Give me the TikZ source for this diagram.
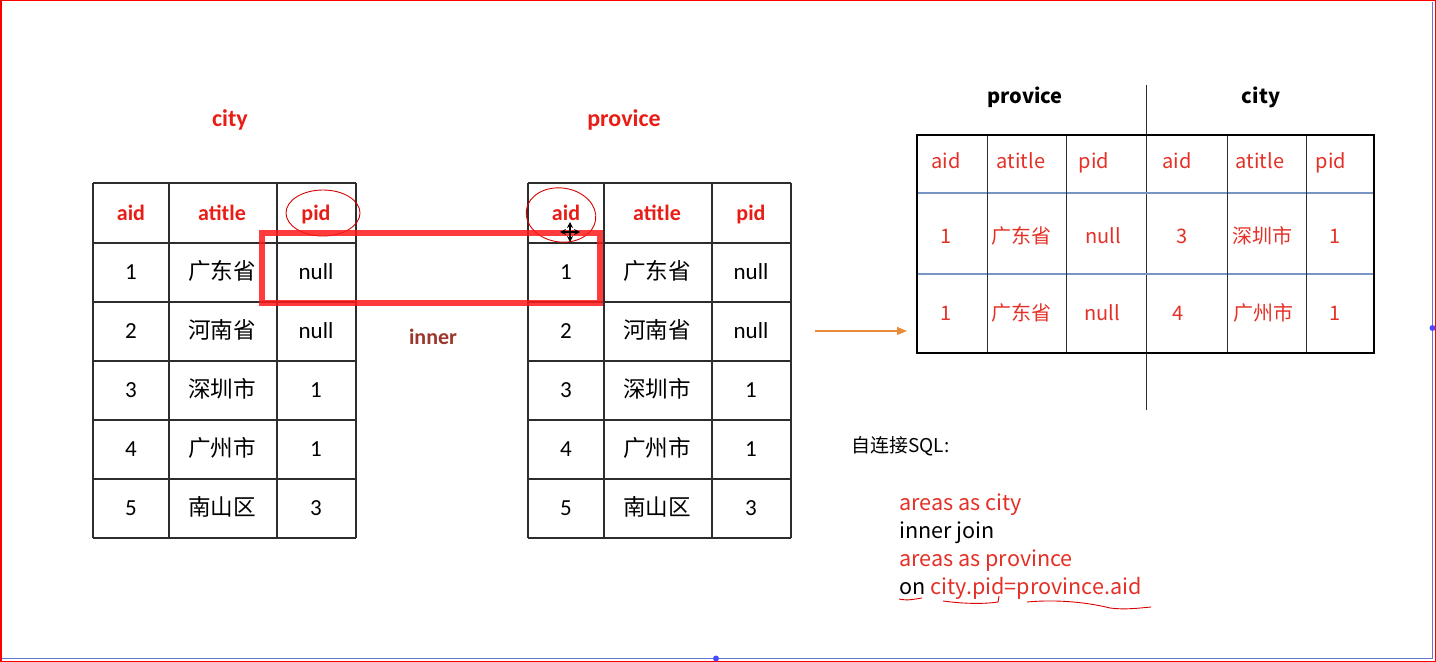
\documentclass[tikz,border=0pt]{standalone}
\usepackage{fontspec}
\setmainfont{Carlito}
\newfontfamily\cjk{Noto Sans CJK SC}
\usetikzlibrary{arrows.meta}
\definecolor{hdred}{RGB}{232,30,22}
\definecolor{resred}{RGB}{228,48,38}
\definecolor{innerred}{RGB}{155,55,45}
\definecolor{arrorange}{RGB}{232,140,60}
\definecolor{rowblue}{RGB}{120,150,195}
\definecolor{gridgray}{RGB}{45,45,45}
\tikzset{
  cell/.style={anchor=base, inner sep=0pt, font=\fontsize{11.5}{13}\selectfont},
  cjkcell/.style={cell, font=\cjk\fontsize{11.3}{13}\selectfont},
  head/.style={cell, font=\fontsize{11}{13}\selectfont\bfseries, text=hdred},
  title/.style={anchor=base, inner sep=0pt, font=\fontsize{12}{14}\selectfont\bfseries},
  rescell/.style={anchor=base, inner sep=0pt, font=\cjk\fontsize{10}{12}\selectfont, text=resred},
  sql/.style={anchor=base west, inner sep=0pt, font=\cjk\fontsize{10.8}{12}\selectfont},
  tline/.style={gridgray, line width=0.7pt},
  scribble/.style={red!85!black, line width=0.45pt},
}
\begin{document}
\begin{tikzpicture}[x=0.5pt,y=-0.5pt]
\useasboundingbox (0,0) rectangle (1436,662);
% screen frame
\draw[red, line width=1pt] (0.5,0.5) rectangle (1435.5,661.5);
\draw[rowblue!80!blue, line width=0.8pt] (1432.5,2) -- (1432.5,658.5) -- (2,658.5);
\fill[blue!70] (1432.5,328) circle (3);
\fill[blue!70] (716,658.5) circle (3);

% the two source tables
\node[title, text=hdred] (tcity) at (230,127) {city};
\node[title, text=hdred] (tprov) at (624,127) {provice};
\foreach \dx/\nm in {0/city,435/prov} {
  \foreach \y in {183,243,302,361,420,479,538}
    \draw[tline] ({93+\dx},\y) -- ({356+\dx},\y);
  \foreach \x in {93,169,277,356}
    \draw[tline] ({\x+\dx},183) -- ({\x+\dx},538);
  \node[head] (\nm-0-1) at ({131+\dx},221) {aid};
  \node[head] (\nm-0-2) at ({222+\dx},221) {atitle};
  \node[head] (\nm-0-3) at ({316+\dx},221) {pid};
  \foreach \r/\t/\p in {1/广东省/null,2/河南省/null,3/深圳市/1,4/广州市/1,5/南山区/3} {
    \node[cell] (\nm-\r-1) at ({131+\dx},{221+59*\r}) {\r};
    \node[cjkcell] (\nm-\r-2) at ({222+\dx},{221+59*\r}) {\t};
    \node[cell] (\nm-\r-3) at ({316+\dx},{221+59*\r}) {\p};
  }
}
\node[title, text=innerred, font=\fontsize{11}{13}\selectfont\bfseries] (inner) at (433,345) {inner};

% marks drawn over the tables
\draw[scribble] (323,213) ellipse (37 and 23);
\draw[scribble, rotate around={-8:(561,215)}] (561,215) ellipse (35 and 27);
\draw[red!90, opacity=0.85, line width=3pt] (262,233) rectangle (600,303);
\draw[{Stealth[length=3pt,width=3pt]}-{Stealth[length=3pt,width=3pt]}, line width=0.6pt] (560,232) -- (580,232);
\draw[{Stealth[length=3pt,width=3pt]}-{Stealth[length=3pt,width=3pt]}, line width=0.6pt] (570,222) -- (570,242);

% arrow to the result
\coordinate (arrS) at (815,331);
\coordinate (arrE) at (907,331);
\draw[arrorange, line width=0.6pt, -{Triangle[length=5pt,width=4pt]}] (arrS) -- (arrE);

% result table
\node[title, text=black, font=\cjk\fontsize{10}{12}\selectfont\bfseries] (rprov) at (1025,104) {provice};
\node[title, text=black, font=\cjk\fontsize{10}{12}\selectfont\bfseries] (rcity) at (1261,104) {city};
\draw[gridgray, line width=0.5pt] (1146,85) -- (1146,410);
\foreach \y in {193,274}
  \draw[rowblue, line width=0.7pt] (917,\y) -- (1374,\y);
\foreach \x in {987,1066,1227,1306}
  \draw[gridgray, line width=0.5pt] (\x,135) -- (\x,353);
\draw[black, line width=1.3pt] (917,135) rectangle (1374,353);
\foreach \x/\t [count=\i] in {946/aid,1021/atitle,1094/pid,1177/aid,1260/atitle,1331/pid}
  \node[rescell] (res-0-\i) at (\x,169) {\t};
\foreach \x/\t [count=\i] in {946/1,1021/广东省,1103/null,1182/3,1262/深圳市,1335/1}
  \node[rescell] (res-1-\i) at (\x,244) {\t};
\foreach \x/\t [count=\i] in {946/1,1021/广东省,1102/null,1178/4,1263/广州市,1335/1}
  \node[rescell] (res-2-\i) at (\x,321) {\t};

% sql text
\node[sql, font=\cjk\fontsize{9.5}{11}\selectfont] (sqlhd) at (851,453) {自连接SQL:};
\node[sql, text=resred] (sql1) at (899,511) {areas as city};
\node[sql] (sql2) at (899,539) {inner join};
\node[sql, text=resred] (sql3) at (899,567) {areas as province};
\node[sql, text=resred] (sql4) at (899,595) {\textcolor{black}{on} city.pid=province.aid};
\draw[scribble] (899,599) .. controls (908,601) and (915,599) .. (922,598);
\draw[scribble] (943,601) .. controls (965,604) and (985,604) .. (998,602) -- (999,596);
\draw[scribble] (1027,602) .. controls (1060,599) and (1090,603) .. (1110,608) .. controls (1125,610) and (1140,608) .. (1151,607);
\end{tikzpicture}
\end{document}
